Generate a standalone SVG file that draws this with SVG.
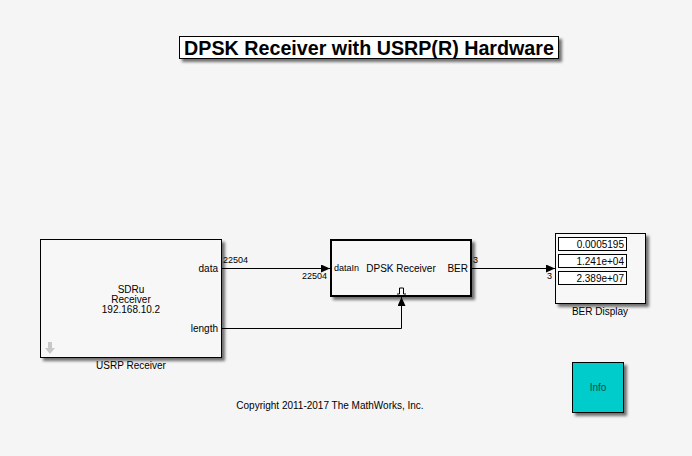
<svg xmlns="http://www.w3.org/2000/svg" width="692" height="456" viewBox="0 0 692 456">
<defs>
<filter id="sh" x="-10%" y="-10%" width="130%" height="140%">
<feGaussianBlur in="SourceAlpha" stdDeviation="1.5"/>
<feOffset dx="3" dy="3" result="o"/>
<feComponentTransfer><feFuncA type="linear" slope="0.55"/></feComponentTransfer>
<feMerge><feMergeNode/><feMergeNode in="SourceGraphic"/></feMerge>
</filter>
<marker id="ar" markerWidth="10" markerHeight="8" refX="9" refY="4" orient="auto" markerUnits="userSpaceOnUse">
<path d="M0,0 L9,4 L0,8 z" fill="#000"/>
</marker>
</defs>
<style>
text{font-family:"Liberation Sans",Arial,sans-serif;fill:#000}
.s{font-size:10px}
.d{font-size:9px}
.blk{fill:#f7f7f7;stroke:#000;stroke-width:1}
.wire{fill:none;stroke:#000;stroke-width:1}
</style>
<rect width="692" height="456" fill="#f5f5f5"/>
<g id="title">
<rect x="179.500" y="36.500" width="379" height="22" fill="#fff" stroke="#000" stroke-width="1" filter="url(#sh)"/>
<text x="369" y="54.500" text-anchor="middle" font-size="19.700" font-weight="bold">DPSK Receiver with USRP(R) Hardware</text>
</g>
<g id="connectors">
<path class="wire" d="M221,268.500 H330" marker-end="url(#ar)"/>
<path class="wire" d="M221,328.500 H401.500 V297" marker-end="url(#ar)"/>
<path class="wire" d="M472,268.500 H555" marker-end="url(#ar)"/>
<text class="d" x="223" y="263">22504</text>
<text class="d" x="302" y="279">22504</text>
<text class="d" x="473" y="263">3</text>
<text class="d" x="547" y="279">3</text>
</g>
<g id="usrp">
<rect class="blk" x="40.500" y="239.500" width="181" height="118" filter="url(#sh)"/>
<text class="s" x="131" y="293" text-anchor="middle">SDRu</text>
<text class="s" x="131" y="303" text-anchor="middle">Receiver</text>
<text class="s" x="131" y="313" text-anchor="middle">192.168.10.2</text>
<text class="s" x="218" y="272" text-anchor="end">data</text>
<text class="s" x="218" y="332" text-anchor="end">length</text>
<path d="M48,342 h4 v6 h3 l-5,6 l-5,-6 h3 z" fill="#c8c8c8"/>
<text class="s" x="131" y="369" text-anchor="middle">USRP Receiver</text>
</g>
<g id="dpsk">
<rect x="331" y="240" width="140" height="56" fill="#f7f7f7" stroke="#000" stroke-width="2" filter="url(#sh)"/>
<text class="d" x="334" y="271">dataIn</text>
<text class="s" x="401" y="272" text-anchor="middle">DPSK Receiver</text>
<text class="s" x="468" y="272" text-anchor="end">BER</text>
<path d="M397,294 h2.500 v-6 h4 v6 h2.500" fill="none" stroke="#000" stroke-width="1"/>
</g>
<g id="berdisplay">
<rect class="blk" x="555.500" y="233.500" width="90" height="70" filter="url(#sh)"/>
<rect x="558.500" y="237.500" width="68" height="13" fill="#fff" stroke="#000"/>
<rect x="558.500" y="254.500" width="68" height="13" fill="#fff" stroke="#000"/>
<rect x="558.500" y="271.500" width="68" height="13" fill="#fff" stroke="#000"/>
<text class="s" x="624" y="248" text-anchor="end">0.0005195</text>
<text class="s" x="624" y="265" text-anchor="end">1.241e+04</text>
<text class="s" x="624" y="282" text-anchor="end">2.389e+07</text>
<text class="s" x="600" y="315" text-anchor="middle">BER Display</text>
</g>
<g id="info">
<rect x="572.500" y="362.500" width="51" height="50" fill="#00cccc" stroke="#000" stroke-width="1" filter="url(#sh)"/>
<text class="s" x="598" y="391" text-anchor="middle" style="fill:#0b4a4a">Info</text>
</g>
<g id="copyright">
<text class="s" x="330" y="409" text-anchor="middle">Copyright 2011-2017 The MathWorks, Inc.</text>
</g>
</svg>
